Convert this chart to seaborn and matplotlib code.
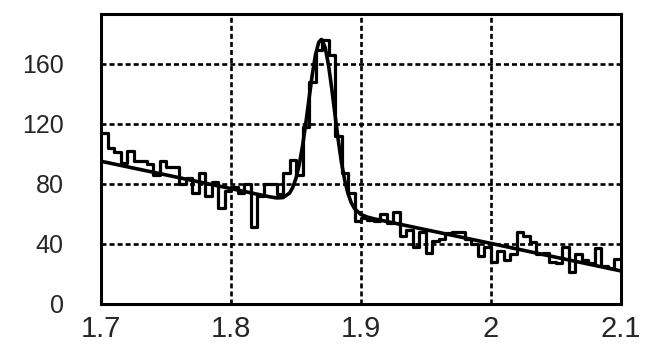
import numpy as np
import pandas as pd
import matplotlib
matplotlib.use("Agg")
import matplotlib.pyplot as plt
from matplotlib.ticker import MultipleLocator
import seaborn as sns

# Histogram: 80 bins of width 0.005 between 1.7 and 2.1
bin_lo = 1.7
bin_hi = 2.1
n_bins = 80
counts = [114, 104, 101, 94, 102, 95, 95, 93, 86, 95,
          91, 91, 80, 84, 74, 87, 72, 81, 64, 75,
          78, 74, 80, 51, 72, 80, 80, 73, 87, 96,
          86, 118, 148, 169, 176, 166, 112, 87, 74, 55,
          57, 56, 55, 60, 54, 61, 45, 49, 38, 48,
          34, 42, 43, 47, 48, 48, 43, 40, 32, 38,
          28, 35, 29, 33, 48, 45, 41, 33, 34, 28,
          27, 38, 21, 33, 29, 27, 37, 25, 24, 30]

# Fitted curve (signal peak on a falling background)
fit_x = [1.70, 1.75, 1.80, 1.82, 1.83, 1.835, 1.84, 1.845, 1.8475, 1.85,
         1.8525, 1.855, 1.8575, 1.86, 1.8625, 1.865, 1.8675, 1.8695, 1.87,
         1.8725, 1.875, 1.8775, 1.88, 1.8825, 1.885, 1.8875, 1.89, 1.8925,
         1.895, 1.90, 1.905, 1.91, 1.95, 2.00, 2.05, 2.10]
fit_y = [95.0, 85.9, 76.8, 73.1, 71.3, 70.6, 70.8, 73.8, 77.6, 83.7,
         92.8, 105.0, 120.0, 136.5, 152.6, 165.9, 174.2, 176.1, 175.8,
         170.5, 159.1, 143.4, 126.0, 109.0, 94.1, 82.2, 73.5, 67.4,
         63.5, 59.5, 57.8, 56.7, 49.4, 40.3, 31.1, 22.0]

x_ticks = [1.7, 1.8, 1.9, 2.0, 2.1]
x_tick_labels = ["1.7", "1.8", "1.9", "2", "2.1"]
y_ticks = [0, 40, 80, 120, 160]

edges = np.linspace(bin_lo, bin_hi, n_bins + 1)
centers = 0.5 * (edges[:-1] + edges[1:])
hist_df = pd.DataFrame({"mass": centers, "entries": counts})
fit_df = pd.DataFrame({"mass": fit_x, "value": fit_y})

sns.set_theme(style="white")
plt.rcParams["font.family"] = ["Liberation Sans", "DejaVu Sans"]

fig = plt.figure(figsize=(6.59, 3.51), dpi=100)
ax = fig.add_axes([0.1533, 0.134, 0.7890, 0.826])

sns.histplot(data=hist_df, x="mass", weights="entries", bins=n_bins,
             binrange=(bin_lo, bin_hi), element="step", fill=False,
             color="black", linewidth=2.3, ax=ax)
sns.lineplot(data=fit_df, x="mass", y="value", color="black",
             linewidth=2.6, ax=ax)

ax.set_xlim(bin_lo, bin_hi)
ax.set_ylim(0, 193)
ax.set_xticks(x_ticks)
ax.set_xticklabels(x_tick_labels)
ax.set_yticks(y_ticks)
ax.xaxis.set_minor_locator(MultipleLocator(0.02))
ax.yaxis.set_minor_locator(MultipleLocator(8))

ax.grid(True, which="major", color="black", linestyle=(0, (1.9, 1.15)),
        linewidth=1.9)
ax.set_axisbelow(True)

ax.tick_params(axis="both", which="major", direction="in", length=10,
               width=2, color="black", top=False, right=False)
ax.tick_params(axis="both", which="minor", direction="in", length=6,
               width=2, color="black", top=False, right=False)
ax.tick_params(axis="y", which="major", labelsize=18, pad=27)
ax.tick_params(axis="x", which="major", labelsize=21, pad=8)

for spine in ax.spines.values():
    spine.set_color("black")
    spine.set_linewidth(2.2)

ax.set_xlabel("")
ax.set_ylabel("")

fig.savefig("out.png", dpi=100, facecolor="white")
